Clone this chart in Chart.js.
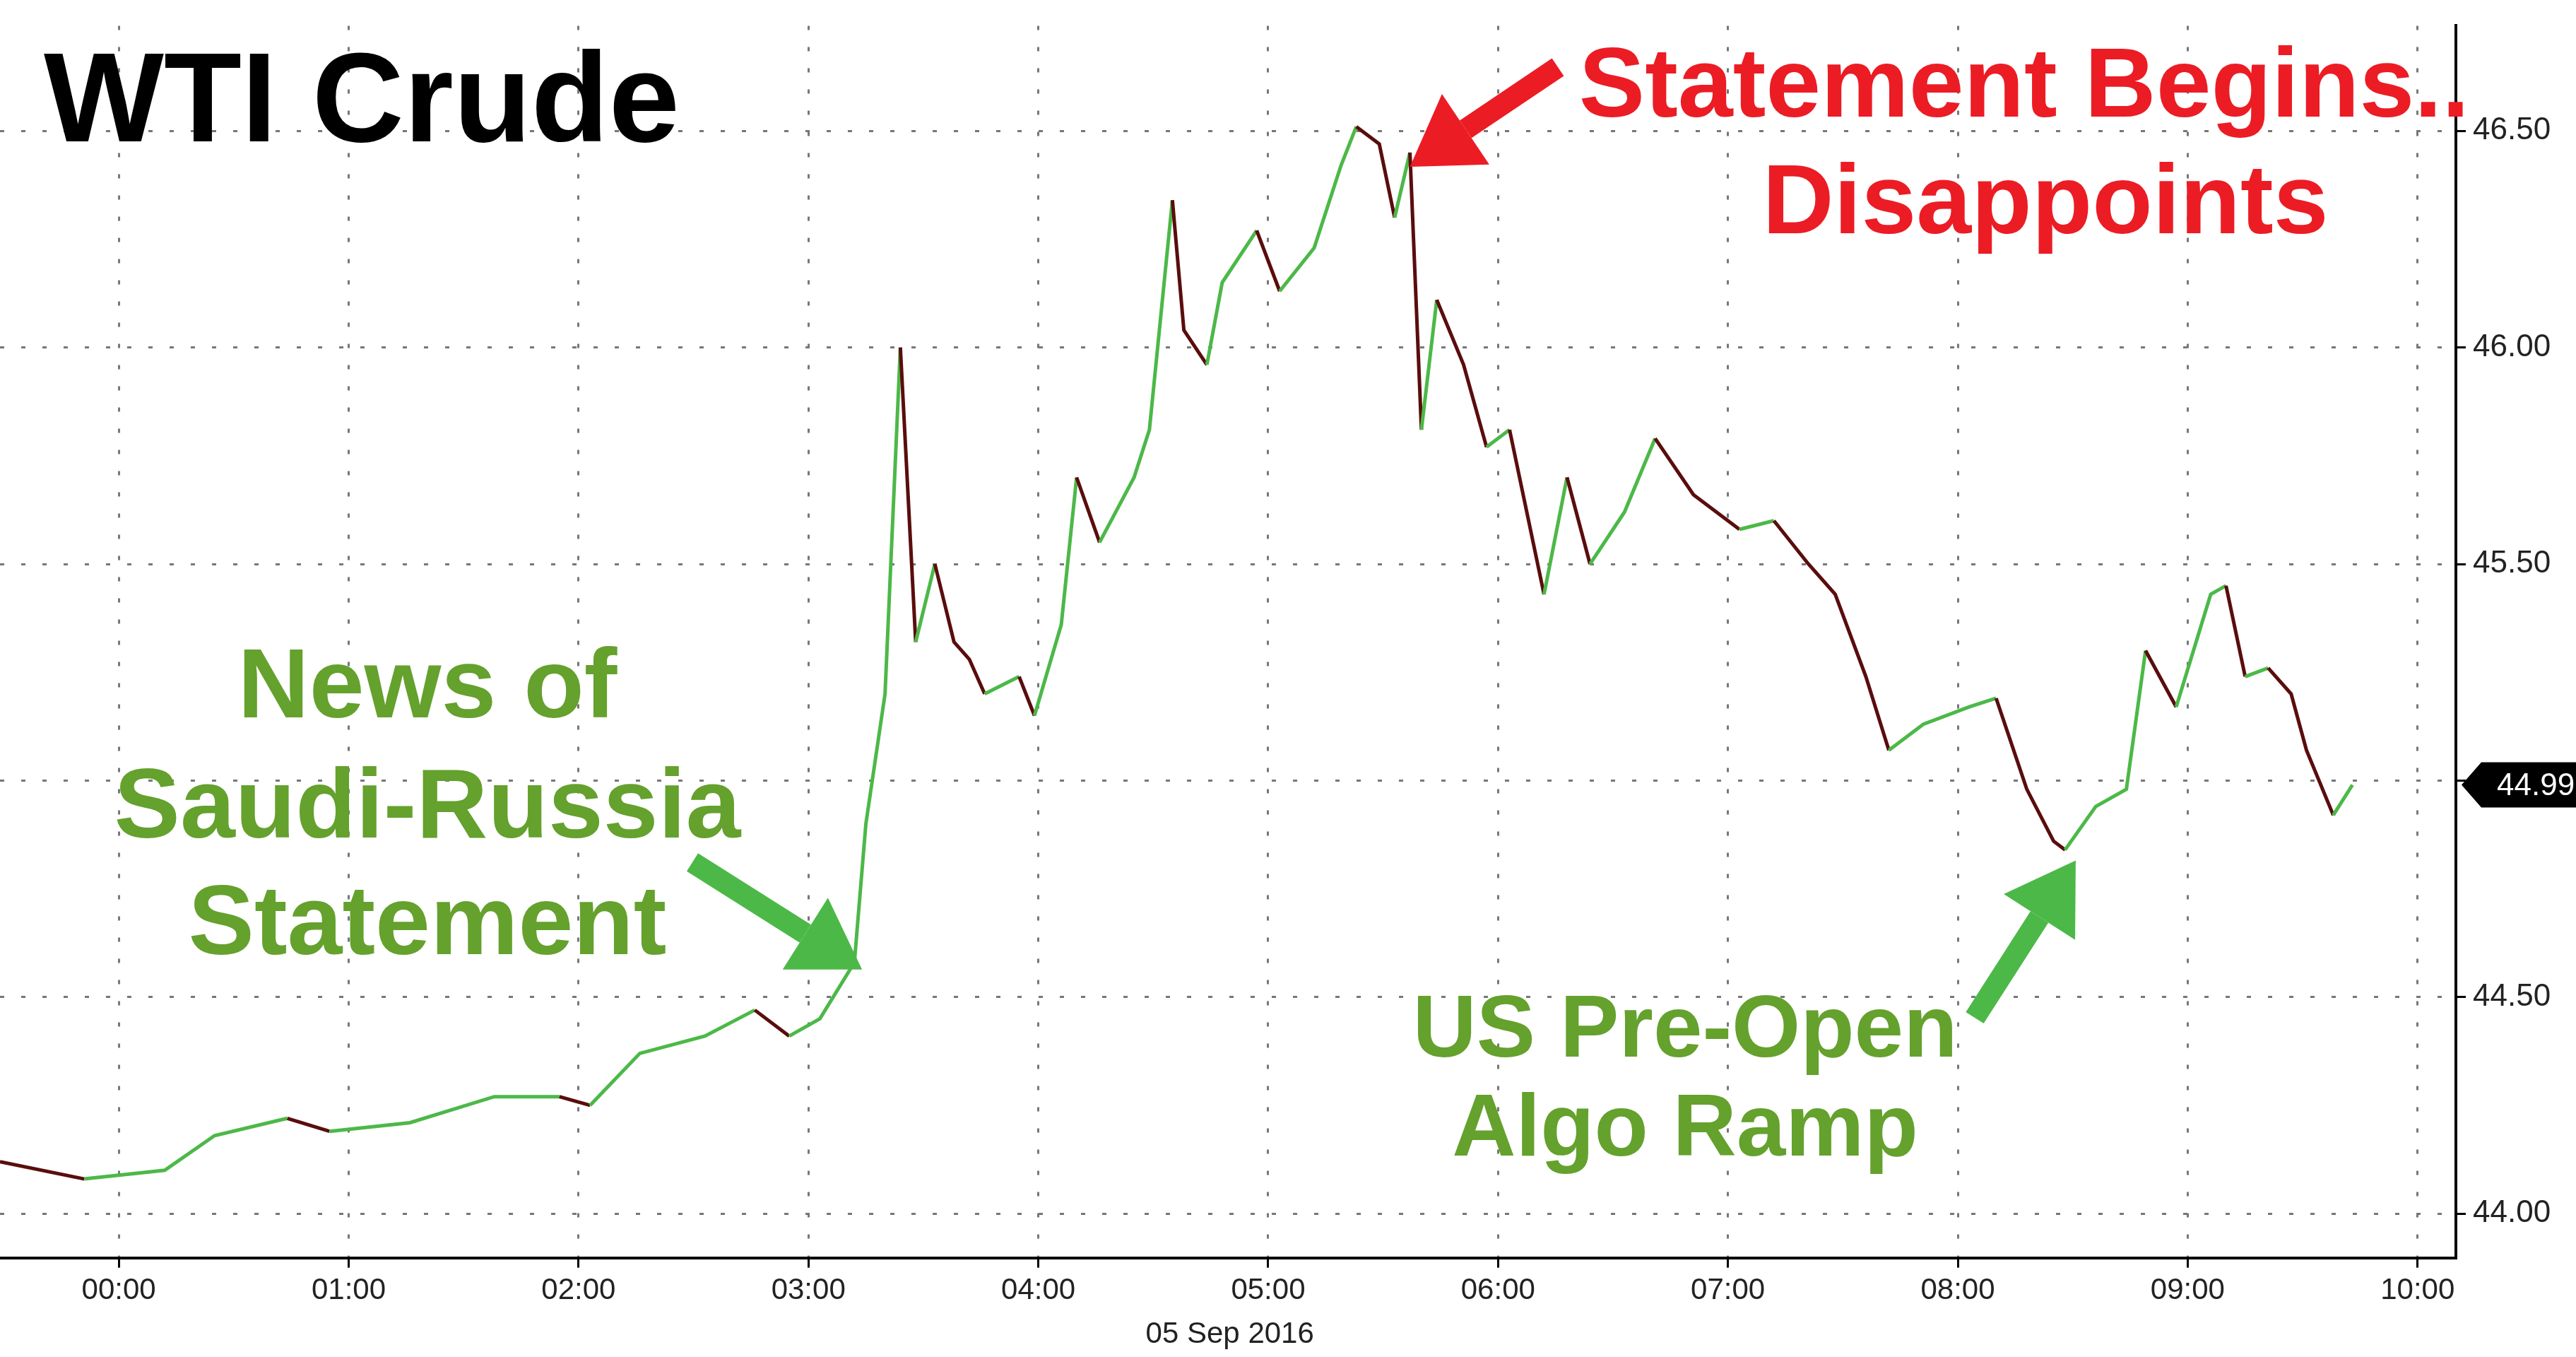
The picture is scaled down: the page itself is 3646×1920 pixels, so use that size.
<!DOCTYPE html>
<html>
<head>
<meta charset="utf-8">
<script src="https://cdn.jsdelivr.net/npm/chart.js@4/dist/chart.umd.min.js"></script>
<style>
  html, body { margin: 0; padding: 0; background: #fff; }
  #wrap { width: 3646px; height: 1920px; }
</style>
</head>
<body>
<div id="wrap"><canvas id="wti" width="3646" height="1920"></canvas></div>
<script>
// minutes after 00:00 on 05 Sep 2016
const minutes = [-31, -9, 12, 25, 44, 55, 76, 98, 115, 123, 136, 153, 166, 175, 183, 192, 195, 200, 204, 206, 208, 213, 218, 222, 226, 235, 239, 246, 250, 256, 265, 269, 275, 278, 284, 288, 297, 303, 312, 319, 323, 329, 333, 337, 340, 344, 351, 357, 363, 372, 378, 384, 393, 401, 411, 423, 432, 441, 448, 456, 462, 471, 483, 490, 498, 505, 508, 516, 524, 529, 537, 546, 550, 555, 561, 567, 571, 578, 583];
const prices = [44.12, 44.08, 44.1, 44.18, 44.22, 44.19, 44.21, 44.27, 44.27, 44.25, 44.37, 44.41, 44.47, 44.41, 44.45, 44.58, 44.9, 45.2, 46.0, 45.66, 45.32, 45.5, 45.32, 45.28, 45.2, 45.24, 45.15, 45.36, 45.7, 45.55, 45.7, 45.81, 46.34, 46.04, 45.96, 46.15, 46.27, 46.13, 46.23, 46.42, 46.51, 46.47, 46.3, 46.45, 45.81, 46.11, 45.96, 45.77, 45.81, 45.43, 45.7, 45.5, 45.62, 45.79, 45.66, 45.58, 45.6, 45.5, 45.43, 45.24, 45.07, 45.13, 45.17, 45.19, 44.98, 44.86, 44.84, 44.94, 44.98, 45.3, 45.17, 45.43, 45.45, 45.24, 45.26, 45.2, 45.07, 44.92, 44.99];
const hourTicks = [0, 60, 120, 180, 240, 300, 360, 420, 480, 540, 600];
const priceTicks = [44.0, 44.5, 45.0, 45.5, 46.0, 46.5];
const lastPrice = 44.99;

const GREEN = '#4cb848', MAROON = '#5a0d0d', TXTGREEN = '#64a12d', RED = '#ec1c24';

const points = minutes.map((m, i) => ({ x: m, y: prices[i] }));

function arrow(ctx, x1, y1, x2, y2, color) {
  const a = Math.atan2(y2 - y1, x2 - x1), head = 95, w = 60;
  const bx = x2 - head * Math.cos(a), by = y2 - head * Math.sin(a);
  ctx.save();
  ctx.strokeStyle = color; ctx.fillStyle = color; ctx.lineWidth = 30;
  ctx.beginPath(); ctx.moveTo(x1, y1); ctx.lineTo(bx, by); ctx.stroke();
  ctx.beginPath();
  ctx.moveTo(x2, y2);
  ctx.lineTo(bx + w * Math.sin(a), by - w * Math.cos(a));
  ctx.lineTo(bx - w * Math.sin(a), by + w * Math.cos(a));
  ctx.closePath(); ctx.fill();
  ctx.restore();
}

const notes = {
  id: 'notes',
  afterDraw(chart) {
    const ctx = chart.ctx, xs = chart.scales.x, ys = chart.scales.y;
    ctx.save();
    ctx.textBaseline = 'alphabetic';
    ctx.fillStyle = '#000';
    ctx.font = 'bold 180px "Liberation Sans", Arial';
    ctx.textAlign = 'left';
    ctx.fillText('WTI Crude', 62, 200);

    ctx.textAlign = 'center';
    ctx.fillStyle = RED;
    ctx.font = 'bold 140px "Liberation Sans", Arial';
    ctx.fillText('Statement Begins..', 2865, 165);
    ctx.fillText('Disappoints', 2895, 330);

    ctx.fillStyle = TXTGREEN;
    ctx.fillText('News of', 605, 1015);
    ctx.fillText('Saudi-Russia', 605, 1185);
    ctx.fillText('Statement', 605, 1350);
    ctx.font = 'bold 125px "Liberation Sans", Arial';
    ctx.fillText('US Pre-Open', 2385, 1495);
    ctx.fillText('Algo Ramp', 2385, 1635);

    arrow(ctx, 2205, 95, xs.getPixelForValue(337), ys.getPixelForValue(46.45) + 20, RED);
    arrow(ctx, 980, 1220, xs.getPixelForValue(194), ys.getPixelForValue(44.58) + 10, GREEN);
    arrow(ctx, 2795, 1440, xs.getPixelForValue(508) + 15, ys.getPixelForValue(44.84) + 15, GREEN);

    // date under the axis
    ctx.fillStyle = '#222';
    ctx.font = '42px "Liberation Sans", Arial';
    ctx.fillText('05 Sep 2016', xs.getPixelForValue(290), 1900);

    // last price tag
    const py = ys.getPixelForValue(lastPrice), px = xs.right + 8;
    ctx.fillStyle = '#000';
    ctx.beginPath();
    ctx.moveTo(px, py);
    ctx.lineTo(px + 28, py - 32);
    ctx.lineTo(3646, py - 32);
    ctx.lineTo(3646, py + 32);
    ctx.lineTo(px + 28, py + 32);
    ctx.closePath(); ctx.fill();
    ctx.fillStyle = '#fff';
    ctx.font = '44px "Liberation Sans", Arial';
    ctx.textAlign = 'left'; ctx.textBaseline = 'middle';
    ctx.fillText(lastPrice.toFixed(2), px + 50, py + 2);
    ctx.restore();
  }
};

new Chart(document.getElementById('wti'), {
  type: 'line',
  data: {
    datasets: [{
      data: points,
      borderWidth: 5,
      pointRadius: 0,
      tension: 0,
      borderColor: GREEN,
      segment: { borderColor: c => c.p1.parsed.y >= c.p0.parsed.y ? GREEN : MAROON }
    }]
  },
  options: {
    responsive: false,
    animation: false,
    layout: { padding: { left: 0, right: 0, top: 0, bottom: 60 } },
    plugins: { legend: { display: false }, tooltip: { enabled: false } },
    scales: {
      x: {
        type: 'linear', min: -31, max: 610,
        afterBuildTicks: s => { s.ticks = hourTicks.map(v => ({ value: v })); },
        ticks: {
          color: '#222', font: { size: 42, family: '"Liberation Sans", Arial' },
          callback: v => String(Math.floor(v / 60)).padStart(2, '0') + ':00',
          maxRotation: 0, padding: 8
        },
        grid: { color: '#777', lineWidth: 3, drawTicks: true, tickLength: 14, tickColor: '#000' },
        border: { color: '#000', width: 4, dash: [6, 24] }
      },
      y: {
        position: 'right', min: 43.898, max: 46.743,
        afterBuildTicks: s => { s.ticks = priceTicks.map(v => ({ value: v })); },
        afterFit: s => { s.width = 170; },
        ticks: {
          color: '#222', font: { size: 44, family: '"Liberation Sans", Arial' },
          callback: v => v.toFixed(2), padding: 10
        },
        grid: { color: '#777', lineWidth: 3, tickLength: 14, tickColor: '#000' },
        border: { color: '#000', width: 4, dash: [6, 24] }
      }
    }
  },
  plugins: [notes]
});
</script>
</body>
</html>
